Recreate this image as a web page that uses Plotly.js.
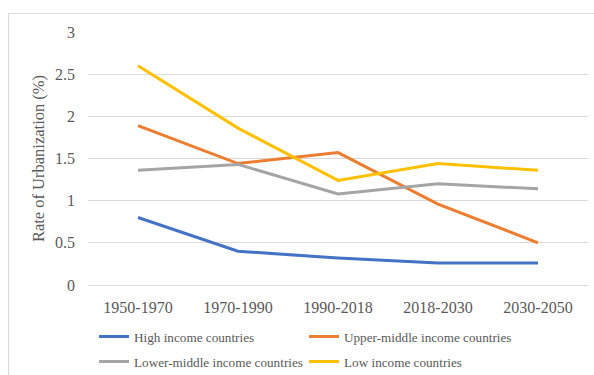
<!DOCTYPE html>
<html>
<head>
<meta charset="utf-8">
<script src="https://cdn.plot.ly/plotly-3.0.1.min.js"></script>
<style>
  html, body { margin: 0; padding: 0; background: #fff; }
  #chart { width: 594px; height: 375px; }
</style>
</head>
<body>
<div id="chart"></div>
<script>
// Periods on the category axis
const periods = ['1950-1970', '1970-1990', '1990-2018', '2018-2030', '2030-2050'];

// Average annual rate of urbanization (%) by income group
const highIncome = [0.80, 0.40, 0.32, 0.26, 0.26];
const upperMiddleIncome = [1.89, 1.44, 1.57, 0.96, 0.50];
const lowerMiddleIncome = [1.36, 1.43, 1.08, 1.20, 1.14];
const lowIncome = [2.60, 1.86, 1.24, 1.44, 1.36];

const seriesNames = [
  'High income countries',
  'Upper-middle income countries',
  'Lower-middle income countries',
  'Low income countries'
];

const yTicks = [0, 0.5, 1, 1.5, 2, 2.5, 3];
const yTickText = ['0', '0.5', '1', '1.5', '2', '2.5', '3'];

const colors = ['#4472C4', '#ED7D31', '#A5A5A5', '#FFC000'];
const values = [highIncome, upperMiddleIncome, lowerMiddleIncome, lowIncome];
// first two series in the upper legend row, the others in the lower row
const legendRows = ['legend', 'legend', 'legend2', 'legend2'];

const traces = values.map((v, i) => ({
  type: 'scatter',
  mode: 'lines',
  x: periods,
  y: v,
  name: seriesNames[i],
  legend: legendRows[i],
  line: { color: colors[i], width: 3 },
  hoverinfo: 'x+y+name'
}));

const fontFamily = 'Liberation Serif, DejaVu Serif, serif';
const textColor = '#595959';

const legendBase = {
  orientation: 'h',
  x: 0.012,
  xanchor: 'left',
  yanchor: 'middle',
  entrywidth: 165,
  entrywidthmode: 'pixels',
  itemwidth: 30,
  font: { family: fontFamily, size: 13.2, color: textColor },
  bgcolor: 'rgba(0,0,0,0)'
};

const layout = {
  width: 594,
  height: 375,
  margin: { l: 88, r: 6, t: 32, b: 90, autoexpand: false },
  paper_bgcolor: '#ffffff',
  plot_bgcolor: '#ffffff',
  font: { family: fontFamily, color: textColor, size: 16 },
  showlegend: true,
  xaxis: {
    type: 'category',
    showgrid: false,
    zeroline: false,
    showline: false,
    ticks: '',
    ticklabelstandoff: 11,
    tickfont: { family: fontFamily, size: 16, color: textColor },
    range: [-0.5, 4.5]
  },
  yaxis: {
    range: [0, 3],
    tickvals: yTicks,
    ticktext: yTickText,
    showgrid: true,
    gridcolor: '#d9d9d9',
    gridwidth: 1,
    zeroline: true,
    zerolinecolor: '#d9d9d9',
    zerolinewidth: 1,
    showline: false,
    ticks: '',
    ticklabelstandoff: 12,
    tickfont: { family: fontFamily, size: 16, color: textColor },
    title: {
      text: 'Rate of Urbanization (%)',
      font: { family: fontFamily, size: 16.5, color: textColor },
      standoff: 6
    }
  },
  legend: Object.assign({}, legendBase, { y: (285 - 337) / 253 }),
  legend2: Object.assign({}, legendBase, { y: (285 - 362) / 253 }),
  shapes: [{
    // outer chart frame
    type: 'rect',
    xref: 'paper', yref: 'paper',
    x0: -0.159, x1: 1.03,
    y0: -0.45, y1: 1.0731,
    line: { color: '#d9d9d9', width: 1 },
    fillcolor: 'rgba(0,0,0,0)',
    layer: 'below'
  }]
};

Plotly.newPlot('chart', traces, layout, { displayModeBar: false, staticPlot: true });
</script>
</body>
</html>
